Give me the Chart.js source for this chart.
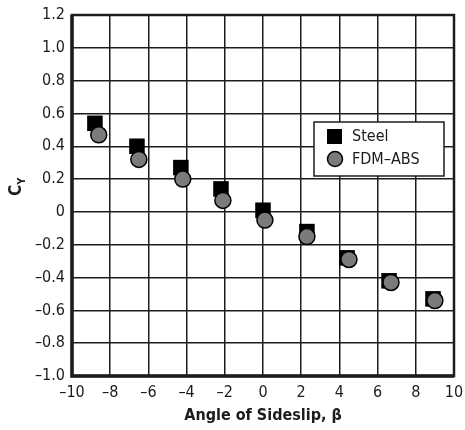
<!DOCTYPE html>
<html>
<head>
<meta charset="utf-8">
<script src="https://cdn.jsdelivr.net/npm/chart.js@4.4.0/dist/chart.umd.min.js"></script>
<style>
  html, body { margin: 0; padding: 0; background: #fff; }
  #wrap { width: 465px; height: 430px; }
</style>
</head>
<body>
<div id="wrap"><canvas id="cy-chart"></canvas></div>
<script>
const steelBeta = [-8.8, -6.6, -4.3, -2.2, 0.0, 2.3, 4.4, 6.6, 8.9]
const steelCy = [0.54, 0.40, 0.27, 0.14, 0.01, -0.12, -0.28, -0.42, -0.53]
const fdmBeta = [-8.6, -6.5, -4.2, -2.1, 0.1, 2.3, 4.5, 6.7, 9.0]
const fdmCy = [0.47, 0.32, 0.20, 0.07, -0.05, -0.15, -0.29, -0.43, -0.54]
const seriesLabels = ['Steel', 'FDM\u2013ABS']
const xTitle = 'Angle of Sideslip, \u03b2'

const FONT = "'Liberation Sans Narrow', 'DejaVu Sans Condensed', Arial, sans-serif"
const INK = '#1c1c1c'

const fmt = (v, digits) => {
  const r = Math.round(v * 10) / 10
  if (r === 0) return '0'
  const s = Math.abs(r).toFixed(digits)
  return r < 0 ? '\u2013' + s : s
}

const toPoints = (xs, ys) => xs.map((x, i) => ({ x: x, y: ys[i] }))

// frame, y title with subscript and boxed legend
const extras = {
  id: 'extras',
  afterDraw (chart) {
    const ctx = chart.ctx
    const a = chart.chartArea
    ctx.save()
    ctx.strokeStyle = INK
    ctx.lineWidth = 2.5
    ctx.strokeRect(a.left, a.top, a.right - a.left, a.bottom - a.top)
    ctx.lineWidth = 3.5
    ctx.beginPath()
    ctx.moveTo(a.left, a.top)
    ctx.lineTo(a.left, a.bottom)
    ctx.lineTo(a.right, a.bottom)
    ctx.stroke()

    // C_Y
    ctx.translate(16, 196)
    ctx.rotate(-Math.PI / 2)
    ctx.fillStyle = INK
    ctx.textBaseline = 'alphabetic'
    ctx.font = 'bold 17px ' + FONT
    ctx.fillText('C', 0, 5)
    const w = ctx.measureText('C').width
    ctx.font = 'bold 11px ' + FONT
    ctx.fillText('Y', w, 9)
    ctx.restore()

    // legend
    const bx = 314, by = 122, bw = 130, bh = 54
    ctx.save()
    ctx.fillStyle = '#fff'
    ctx.fillRect(bx, by, bw, bh)
    ctx.strokeStyle = INK
    ctx.lineWidth = 1.5
    ctx.strokeRect(bx, by, bw, bh)
    ctx.fillStyle = '#000'
    ctx.fillRect(327, 129, 15, 15)
    ctx.beginPath()
    ctx.arc(335, 159, 7.5, 0, Math.PI * 2)
    ctx.fillStyle = '#7b7b7b'
    ctx.fill()
    ctx.lineWidth = 1.5
    ctx.strokeStyle = '#000'
    ctx.stroke()
    ctx.fillStyle = INK
    ctx.font = '16px ' + FONT
    ctx.textBaseline = 'middle'
    ctx.fillText(seriesLabels[0], 352, 137)
    ctx.fillText(seriesLabels[1], 352, 160)
    ctx.restore()
  }
}

const ctx = document.getElementById('cy-chart')
const chart = new Chart(ctx, {
  type: 'scatter',
  data: {
    datasets: [{
      label: seriesLabels[1],
      data: toPoints(fdmBeta, fdmCy),
      pointStyle: 'circle',
      pointRadius: 8,
      backgroundColor: '#7b7b7b',
      borderColor: '#000',
      borderWidth: 1.5,
      order: 0
    }, {
      label: seriesLabels[0],
      data: toPoints(steelBeta, steelCy),
      pointStyle: 'rect',
      pointRadius: 11,
      backgroundColor: '#000',
      borderColor: '#000',
      borderWidth: 0,
      order: 1
    }]
  },
  options: {
    responsive: true,
    maintainAspectRatio: false,
    animation: false,
    events: [],
    layout: { padding: { left: 0, top: 15, right: 9, bottom: 0 } },
    plugins: {
      legend: { display: false },
      tooltip: { enabled: false }
    },
    scales: {
      x: {
        type: 'linear',
        min: -10,
        max: 10,
        afterFit: (s) => {
          s.height = 54
          s.paddingLeft = 0
          s.paddingRight = 0
        },
        grid: { color: INK, lineWidth: 1.5, drawTicks: false },
        border: { display: false },
        ticks: {
          stepSize: 2,
          padding: 7,
          color: INK,
          font: { family: FONT, size: 16 },
          callback: (v) => fmt(v, 0)
        },
        title: {
          display: true,
          text: xTitle,
          color: INK,
          font: { family: FONT, size: 16, weight: 'bold' },
          padding: { top: 0, bottom: 5 }
        }
      },
      y: {
        type: 'linear',
        min: -1,
        max: 1.2,
        afterFit: (s) => {
          s.width = 72
          s.paddingTop = 0
          s.paddingBottom = 0
        },
        grid: { color: INK, lineWidth: 1.5, drawTicks: false },
        border: { display: false },
        ticks: {
          stepSize: 0.2,
          padding: 7,
          color: INK,
          font: { family: FONT, size: 16 },
          callback: (v) => fmt(v, 1)
        }
      }
    }
  },
  plugins: [extras]
})
</script>
</body>
</html>
